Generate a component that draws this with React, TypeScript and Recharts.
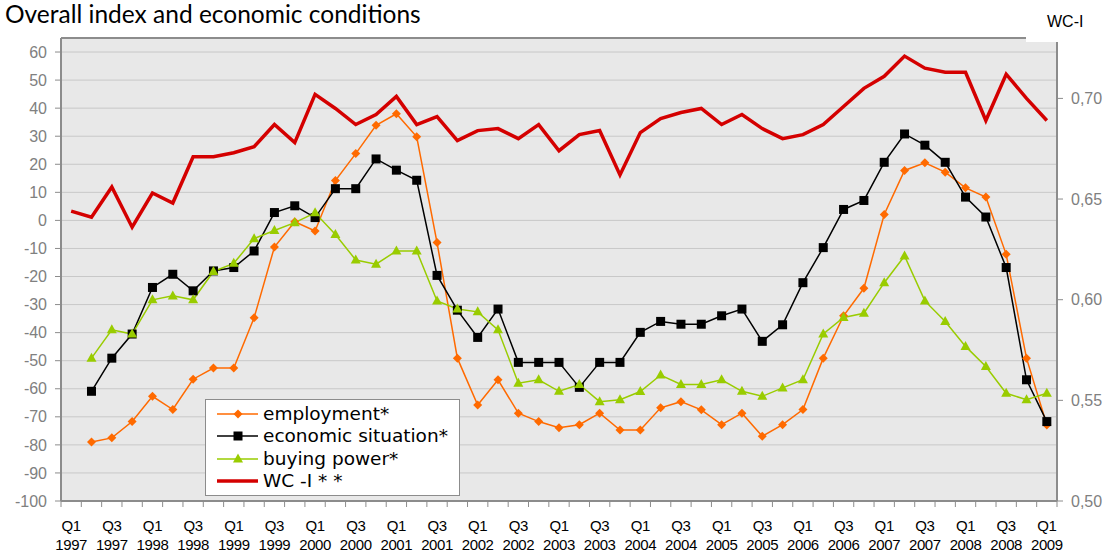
import { CartesianGrid, Legend, Line, LineChart, ReferenceLine, XAxis, YAxis } from "recharts"

const periods = [
  "Q1 1997", "Q2 1997", "Q3 1997", "Q4 1997",
  "Q1 1998", "Q2 1998", "Q3 1998", "Q4 1998",
  "Q1 1999", "Q2 1999", "Q3 1999", "Q4 1999",
  "Q1 2000", "Q2 2000", "Q3 2000", "Q4 2000",
  "Q1 2001", "Q2 2001", "Q3 2001", "Q4 2001",
  "Q1 2002", "Q2 2002", "Q3 2002", "Q4 2002",
  "Q1 2003", "Q2 2003", "Q3 2003", "Q4 2003",
  "Q1 2004", "Q2 2004", "Q3 2004", "Q4 2004",
  "Q1 2005", "Q2 2005", "Q3 2005", "Q4 2005",
  "Q1 2006", "Q2 2006", "Q3 2006", "Q4 2006",
  "Q1 2007", "Q2 2007", "Q3 2007", "Q4 2007",
  "Q1 2008", "Q2 2008", "Q3 2008", "Q4 2008",
  "Q1 2009",
]

const employment = [
  null, -79, -77.5, -71.7, -62.7, -67.4, -56.6, -52.6, -52.6, -34.7, -9.5, -0.5,
  -3.8, 14.2, 23.8, 33.9, 38, 29.8, -7.9, -49.1, -65.8, -56.8, -68.7, -71.7,
  -73.9, -72.8, -68.7, -74.7, -74.7, -66.8, -64.6, -67.5, -72.8, -68.7, -76.9, -72.8,
  -67.4, -49.1, -34, -24.2, 2.1, 17.8, 20.5, 17.2, 11.6, 8.3, -12.1, -49.1, -72.9,
]

const economic = [
  null, -60.9, -49.1, -40.5, -23.9, -19.2, -25.1, -18, -16.8, -10.9, 2.8, 5.2,
  1, 11.3, 11.3, 21.9, 17.9, 14.3, -19.6, -32, -41.7, -31.6, -50.6, -50.6,
  -50.6, -59.5, -50.6, -50.6, -39.9, -36, -37, -37, -34, -31.6, -43.1, -37.2,
  -22.2, -9.7, 3.9, 7.1, 20.7, 30.8, 26.8, 20.7, 8.3, 1.2, -16.8, -56.8, -71.7,
]

const buying = [
  null, -49.1, -39, -40.5, -28.3, -26.9, -28.3, -18.2, -15.3, -6.5, -3.6, -0.8,
  2.7, -5, -14.1, -15.6, -10.9, -10.9, -28.7, -31.6, -32.6, -39, -58, -56.8,
  -60.9, -58.5, -64.6, -63.9, -61, -55.1, -58.5, -58.5, -56.8, -60.9, -62.7, -59.7,
  -56.8, -40.5, -34.6, -33.1, -22.2, -12.7, -28.7, -36, -44.9, -52.1, -61.6, -63.9, -61.6,
]

const wci = [
  0.644, 0.641, 0.656, 0.636, 0.653, 0.648, 0.671, 0.671, 0.673, 0.676, 0.687, 0.678,
  0.702, 0.695, 0.687, 0.692, 0.701, 0.687, 0.691, 0.679, 0.684, 0.685, 0.68, 0.687,
  0.674, 0.682, 0.684, 0.662, 0.683, 0.69, 0.693, 0.695, 0.687, 0.692, 0.685, 0.68,
  0.682, 0.687, 0.696, 0.705, 0.711, 0.721, 0.715, 0.713, 0.713, 0.689, 0.712, 0.7, 0.689,
]

const leftTicks = [-100, -90, -80, -70, -60, -50, -40, -30, -20, -10, 0, 10, 20, 30, 40, 50, 60]
const rightTicks = [0.5, 0.55, 0.6, 0.65, 0.7]

const data = periods.map((p, i) => ({
  i,
  period: p,
  employment: employment[i],
  economic: economic[i],
  buying: buying[i],
  wci: wci[i],
}))

// tick marks sit between quarters, labels in the middle of every Q1 / Q3
const boundaries = [...periods.map((_, i) => i - 0.5), periods.length - 0.5]

const ORANGE = "#ff6a00"
const GREEN = "#99cc00"
const RED = "#d40000"
const AXIS = "#8c8c8c"
const HALF_STEP = 996 / periods.length / 2

function QuarterTick({ x, y, payload }: any) {
  const label = periods[payload.value + 0.5]
  if (!label || !(label.startsWith("Q1") || label.startsWith("Q3"))) return <g />
  const [q, yr] = label.split(" ")
  return (
    <text
      textAnchor="middle"
      fontFamily="Liberation Sans, Arial, sans-serif"
      fontSize={15}
      letterSpacing={-0.4}
      fill="#000"
    >
      <tspan x={x + HALF_STEP} y={y + 22}>{q}</tspan>
      <tspan x={x + HALF_STEP} y={y + 40.5}>{yr}</tspan>
    </text>
  )
}

const diamond = (props: any) => {
  const { cx, cy, index } = props
  if (cy == null) return <g key={index} />
  return (
    <polygon
      key={index}
      points={`${cx},${cy - 4.5} ${cx + 4.5},${cy} ${cx},${cy + 4.5} ${cx - 4.5},${cy}`}
      fill={ORANGE}
    />
  )
}

const square = (props: any) => {
  const { cx, cy, index } = props
  if (cy == null) return <g key={index} />
  return <rect key={index} x={cx - 4.5} y={cy - 4.5} width={9} height={9} fill="#000" />
}

const triangle = (props: any) => {
  const { cx, cy, index } = props
  if (cy == null) return <g key={index} />
  return (
    <polygon
      key={index}
      points={`${cx},${cy - 5.5} ${cx + 5},${cy + 3.5} ${cx - 5},${cy + 3.5}`}
      fill={GREEN}
    />
  )
}

const legendRows = [
  { label: "employment*", color: ORANGE, marker: "diamond" },
  { label: "economic situation*", color: "#000", marker: "square" },
  { label: "buying power*", color: GREEN, marker: "triangle" },
  { label: "WC -I * *", color: RED, marker: "none" },
]

function LegendBox() {
  return (
    <div
      style={{
        position: "relative",
        width: 255,
        height: 97,
        boxSizing: "border-box",
        background: "#fff",
        border: `1px solid ${AXIS}`,
      }}
    >
      {legendRows.map((r, k) => {
        const top = 13.5 + k * 22.5
        return (
          <div key={r.label} style={{ position: "absolute", left: 0, top: top - 11, height: 22, width: 255 }}>
            <svg width={54} height={22} style={{ position: "absolute", left: 0, top: 0 }}>
              <line x1={11} x2={52} y1={11} y2={11} stroke={r.color} strokeWidth={r.marker === "none" ? 3.5 : 1.5} />
              {r.marker === "diamond" && <polygon points="32,6.5 36.5,11 32,15.5 27.5,11" fill={r.color} />}
              {r.marker === "square" && <rect x={27.5} y={6.5} width={9} height={9} fill={r.color} />}
              {r.marker === "triangle" && <polygon points="32,5.5 37,14.5 27,14.5" fill={r.color} />}
            </svg>
            <span
              style={{
                position: "absolute",
                left: 57,
                top: 0,
                lineHeight: "22px",
                fontFamily: "DejaVu Sans, sans-serif",
                fontSize: 18.5,
                color: "#000",
                whiteSpace: "nowrap",
              }}
            >
              {r.label}
            </span>
          </div>
        )
      })}
    </div>
  )
}

export default function App() {
  return (
    <div style={{ position: "absolute", left: 0, top: 0, width: 1106, height: 553, background: "#fff" }}>
      <LineChart width={1106} height={553} data={data} margin={{ top: 38, right: 0, bottom: 0, left: 0 }}>
        <CartesianGrid yAxisId="left" vertical={false} fill="#e8e8e8" stroke="#c8c8c8" />
        <XAxis
          type="number"
          dataKey="i"
          domain={[-0.5, periods.length - 0.5]}
          ticks={boundaries}
          interval={0}
          height={52}
          tickSize={6}
          axisLine={{ stroke: AXIS, strokeWidth: 2 }}
          tickLine={{ stroke: AXIS }}
          tick={<QuarterTick />}
        />
        <YAxis
          yAxisId="left"
          domain={[-100, 65]}
          ticks={leftTicks}
          interval={0}
          width={61}
          tickSize={6}
          tickMargin={8}
          axisLine={{ stroke: AXIS, strokeWidth: 2 }}
          tickLine={{ stroke: AXIS }}
          tick={{ fill: "#808080", fontSize: 16, fontFamily: "Liberation Sans, Arial, sans-serif" }}
        />
        <YAxis
          yAxisId="right"
          orientation="right"
          domain={[0.5, 0.73]}
          ticks={rightTicks}
          interval={0}
          width={49}
          tickSize={6}
          tickMargin={8}
          axisLine={{ stroke: AXIS, strokeWidth: 2 }}
          tickLine={{ stroke: AXIS }}
          tickFormatter={(v: number) => v.toFixed(2).replace(".", ",")}
          tick={{ fill: "#808080", fontSize: 16, fontFamily: "Liberation Sans, Arial, sans-serif" }}
        />
        <ReferenceLine yAxisId="left" y={65} stroke={AXIS} strokeWidth={2} />
        <Line
          yAxisId="left"
          dataKey="employment"
          stroke={ORANGE}
          strokeWidth={1.5}
          dot={diamond}
          activeDot={false}
          isAnimationActive={false}
        />
        <Line
          yAxisId="left"
          dataKey="economic"
          stroke="#000"
          strokeWidth={1.5}
          dot={square}
          activeDot={false}
          isAnimationActive={false}
        />
        <Line
          yAxisId="left"
          dataKey="buying"
          stroke={GREEN}
          strokeWidth={1.5}
          dot={triangle}
          activeDot={false}
          isAnimationActive={false}
        />
        <Line
          yAxisId="right"
          dataKey="wci"
          stroke={RED}
          strokeWidth={3.5}
          dot={false}
          activeDot={false}
          isAnimationActive={false}
        />
        <Legend
          layout="horizontal"
          align="center"
          verticalAlign="middle"
          content={() => <LegendBox />}
          wrapperStyle={{ left: 205, top: 399, width: 255, height: 97 }}
        />
      </LineChart>
      <svg
        width={1106}
        height={553}
        style={{ position: "absolute", left: 0, top: 0, pointerEvents: "none" }}
      >
        <text x={5} y={23} fontFamily="Lato, sans-serif" fontSize={24.5} fill="#000">
          Overall index and economic conditions
        </text>
        <rect x={1026} y={0} width={80} height={42} fill="#fff" />
        <text x={1047} y={27} fontFamily="Liberation Sans, Arial, sans-serif" fontSize={16} fill="#000">
          WC-I
        </text>
      </svg>
    </div>
  )
}
